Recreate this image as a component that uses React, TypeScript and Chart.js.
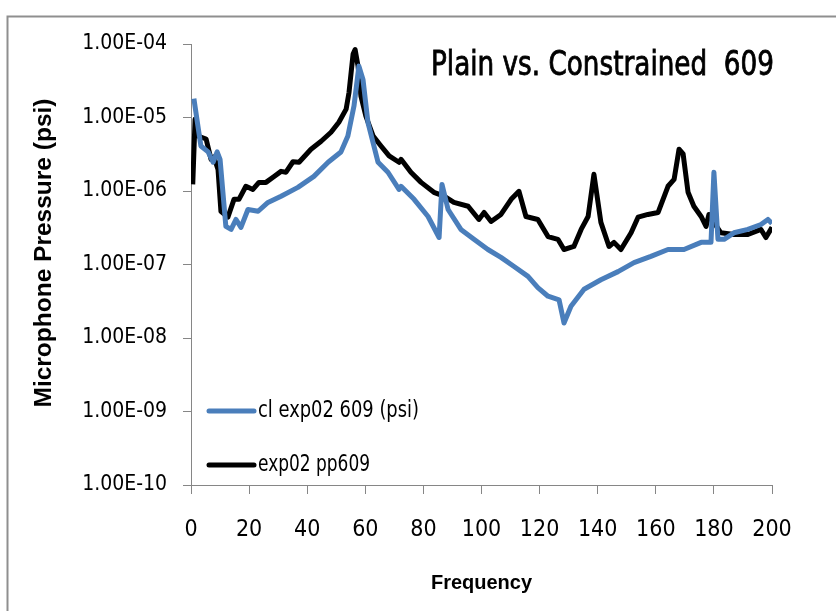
import React, { useEffect, useRef } from "react";
import { Chart, registerables } from "chart.js";

Chart.register(...registerables);

// ---- Data ----
const titleText = "Plain vs. Constrained  609";
const xTitle = "Frequency";
const yTitle = "Microphone Pressure (psi)";

const clLabel = "cl exp02 609 (psi)";
const clFreq = [1.0, 2.4, 3.4, 5.9, 7.6, 9.0, 10.0, 12.0, 13.8, 15.5, 17.2, 19.6, 23.1, 26.5, 31.0, 36.8, 42.3, 47.2, 51.6, 54.0, 56.1, 57.8, 59.2, 60.9, 64.4, 67.8, 71.6, 72.3, 76.8, 81.6, 85.4, 86.4, 88.5, 92.9, 97.4, 102.2, 106.7, 111.2, 116.0, 119.4, 122.9, 126.7, 128.4, 130.8, 135.3, 141.1, 147.0, 152.5, 158.3, 164.2, 169.7, 175.6, 179.0, 180.0, 181.4, 183.5, 186.9, 191.7, 196.2, 198.6, 200];
const clVal = [1.8e-5, 7.6e-6, 4.1e-6, 3.4e-6, 2.46e-6, 3.4e-6, 2.7e-6, 3.3e-7, 3.0e-7, 4.1e-7, 3.2e-7, 5.6e-7, 5.3e-7, 7.0e-7, 8.5e-7, 1.12e-6, 1.58e-6, 2.46e-6, 3.4e-6, 5.6e-6, 1.43e-5, 5.0e-5, 3.3e-5, 8.6e-6, 2.46e-6, 1.8e-6, 1.05e-6, 1.16e-6, 7.7e-7, 4.5e-7, 2.33e-7, 1.23e-6, 5.6e-7, 3.0e-7, 2.2e-7, 1.6e-7, 1.25e-7, 9.4e-8, 6.9e-8, 4.85e-8, 3.7e-8, 3.3e-8, 1.6e-8, 2.7e-8, 4.6e-8, 6.2e-8, 8.0e-8, 1.06e-7, 1.29e-7, 1.6e-7, 1.6e-7, 2.0e-7, 2.0e-7, 1.8e-6, 2.2e-7, 2.2e-7, 2.7e-7, 3.0e-7, 3.5e-7, 4.1e-7, 3.6e-7];

const ppLabel = "exp02 pp609";
const ppFreq = [0.6, 1.4, 2.4, 5.2, 6.9, 7.9, 9.3, 10.3, 12.7, 14.8, 16.5, 18.9, 21.3, 23.4, 25.8, 28.6, 31.0, 32.7, 35.1, 37.2, 41.3, 44.8, 48.2, 50.9, 53.4, 54.4, 55.8, 56.5, 57.5, 58.5, 60.2, 62.7, 65.4, 68.2, 71.6, 72.3, 75.7, 79.2, 83.6, 87.1, 90.5, 95.4, 99.1, 100.9, 103.3, 106.7, 110.2, 112.9, 115.3, 119.4, 122.9, 126.3, 128.4, 131.8, 134.3, 136.7, 138.7, 141.1, 143.9, 145.6, 148.0, 151.5, 153.9, 157.3, 160.8, 164.2, 166.3, 168.0, 169.4, 171.1, 173.1, 175.6, 177.3, 178.3, 180.0, 182.4, 186.9, 191.7, 196.2, 197.9, 200];
const ppVal = [1.23e-6, 9.5e-6, 5.6e-6, 5.1e-6, 2.7e-6, 2.9e-6, 1.97e-6, 5.3e-7, 4.4e-7, 7.7e-7, 7.7e-7, 1.16e-6, 1.05e-6, 1.31e-6, 1.31e-6, 1.58e-6, 1.85e-6, 1.8e-6, 2.5e-6, 2.46e-6, 3.7e-6, 4.75e-6, 6.3e-6, 8.6e-6, 1.3e-5, 2.2e-5, 7.3e-5, 8.4e-5, 5.0e-5, 1.95e-5, 1.04e-5, 5.6e-6, 4.1e-6, 3.0e-6, 2.46e-6, 2.7e-6, 1.8e-6, 1.31e-6, 9.6e-7, 8.5e-7, 7.0e-7, 6.2e-7, 4.1e-7, 5.1e-7, 3.85e-7, 4.8e-7, 7.7e-7, 9.9e-7, 4.5e-7, 4.1e-7, 2.4e-7, 2.2e-7, 1.6e-7, 1.76e-7, 3.0e-7, 4.5e-7, 1.69e-6, 3.74e-7, 1.76e-7, 2.0e-7, 1.6e-7, 2.7e-7, 4.4e-7, 4.8e-7, 5.1e-7, 1.16e-6, 1.44e-6, 3.7e-6, 3.2e-6, 9.6e-7, 6.2e-7, 4.5e-7, 3.3e-7, 4.8e-7, 3.74e-7, 2.7e-7, 2.56e-7, 2.56e-7, 3.0e-7, 2.33e-7, 3.2e-7];

const yTickValues = [1e-10, 1e-9, 1e-8, 1e-7, 1e-6, 1e-5, 1e-4];
const xMin = 0;
const xMax = 200;
const xStep = 20;

// ---- Styles ----
const NARROW = "'Liberation Sans Narrow', 'DejaVu Sans Condensed', 'Liberation Sans', sans-serif";
const SANS = "'Liberation Sans', Arial, sans-serif";
const BLUE = "#4a7ebb";
const BLACK = "#000000";
const AXIS = "#868686";

function fmtSci(v: number): string {
  const e = Math.floor(Math.log10(v) + 1e-9);
  const m = v / Math.pow(10, e);
  const sign = e < 0 ? "-" : "+";
  return m.toFixed(2) + "E" + sign + String(Math.abs(e)).padStart(2, "0");
}

// draw text squeezed horizontally to a target width
function fitText(ctx: CanvasRenderingContext2D, text: string, x: number, y: number, width: number, align: "left" | "right", stroke: number) {
  const w = ctx.measureText(text).width;
  const k = Math.min(1, width / w);
  ctx.save();
  ctx.translate(x, y);
  ctx.scale(k, 1);
  ctx.textAlign = align;
  ctx.fillText(text, 0, 0);
  if (stroke > 0) {
    ctx.strokeStyle = ctx.fillStyle as string;
    ctx.lineWidth = stroke;
    ctx.strokeText(text, 0, 0);
  }
  ctx.restore();
}

const decorPlugin = {
  id: "decor",
  beforeDraw(chart: any) {
    const ctx = chart.ctx;
    ctx.save();
    ctx.strokeStyle = "#8f8f8f";
    ctx.lineWidth = 2;
    ctx.beginPath();
    ctx.moveTo(7.5, chart.height);
    ctx.lineTo(7.5, 16.5);
    ctx.lineTo(chart.width, 16.5);
    ctx.stroke();
    ctx.restore();
  },
  afterDraw(chart: any) {
    const ctx = chart.ctx;
    const a = chart.chartArea;
    ctx.save();
    // y axis title
    ctx.save();
    ctx.translate(44, 253);
    ctx.rotate(-Math.PI / 2);
    ctx.fillStyle = "#000";
    ctx.font = "bold 24.5px " + SANS;
    ctx.textAlign = "center";
    ctx.textBaseline = "middle";
    ctx.fillText(yTitle, 0, 0);
    ctx.restore();
    // title inside plot area
    ctx.fillStyle = "#000";
    ctx.font = "34px " + NARROW;
    ctx.textBaseline = "alphabetic";
    fitText(ctx, titleText, a.right + 2, a.top + 31, 343, "right", 0.8);
    // legend inside plot area
    const rows = [a.top + 367, a.top + 421];
    const widths = [161, 112];
    chart.data.datasets.forEach((ds: any, i: number) => {
      const y = rows[i];
      ctx.strokeStyle = ds.borderColor;
      ctx.lineWidth = 5;
      ctx.lineCap = "round";
      ctx.beginPath();
      ctx.moveTo(a.left + 18, y);
      ctx.lineTo(a.left + 63, y);
      ctx.stroke();
      ctx.fillStyle = "#000";
      ctx.font = "23px " + NARROW;
      ctx.textBaseline = "middle";
      fitText(ctx, ds.label, a.left + 67, y, widths[i], "left", 0);
    });
    ctx.restore();
  },
};

export default function App() {
  const ref = useRef<HTMLCanvasElement | null>(null);

  useEffect(() => {
    document.body.style.margin = "0";
    const canvas = ref.current;
    if (!canvas) return;
    const clData = clFreq.map((f, i) => ({ x: f, y: clVal[i] }));
    const ppData = ppFreq.map((f, i) => ({ x: f, y: ppVal[i] }));
    const chart = new Chart(canvas, {
      type: "line",
      data: {
        datasets: [
          {
            label: clLabel,
            data: clData,
            borderColor: BLUE,
            backgroundColor: BLUE,
            borderWidth: 5,
            pointRadius: 0,
            tension: 0,
            borderJoinStyle: "round",
          },
          {
            label: ppLabel,
            data: ppData,
            borderColor: BLACK,
            backgroundColor: BLACK,
            borderWidth: 5,
            pointRadius: 0,
            tension: 0,
            borderJoinStyle: "round",
          },
        ],
      },
      options: {
        animation: false,
        responsive: false,
        maintainAspectRatio: false,
        layout: { padding: { top: 44, right: 64, left: 0, bottom: 0 } },
        plugins: {
          legend: { display: false },
          title: { display: false },
          tooltip: { enabled: false },
        },
        scales: {
          x: {
            type: "linear",
            min: xMin,
            max: xMax,
            afterFit: (s: any) => {
              s.height = 126;
            },
            ticks: {
              stepSize: xStep,
              color: "#000",
              padding: 22,
              maxRotation: 0,
              font: { family: NARROW, size: 23 },
            },
            grid: {
              drawOnChartArea: false,
              drawTicks: true,
              tickLength: 9,
              color: AXIS,
            },
            border: { display: true, color: AXIS, width: 1 },
            title: {
              display: true,
              text: xTitle,
              color: "#000",
              font: { family: SANS, size: 20, weight: "bold" },
              padding: { top: 0, bottom: 16 },
            },
          },
          y: {
            type: "logarithmic",
            min: yTickValues[0],
            max: yTickValues[yTickValues.length - 1],
            afterFit: (s: any) => {
              s.width = 191;
            },
            afterBuildTicks: (s: any) => {
              s.ticks = yTickValues.map((v) => ({ value: v }));
            },
            ticks: {
              color: "#000",
              padding: 16,
              autoSkip: false,
              font: { family: NARROW, size: 21 },
              callback: (v: any) => fmtSci(Number(v)),
            },
            grid: {
              drawOnChartArea: false,
              drawTicks: true,
              tickLength: 8,
              color: AXIS,
            },
            border: { display: true, color: AXIS, width: 1 },
            title: { display: false },
          },
        },
      },
      plugins: [decorPlugin],
    });
    return () => chart.destroy();
  }, []);

  return (
    <canvas
      ref={ref}
      width={836}
      height={611}
      style={{ display: "block", width: 836, height: 611 }}
    />
  );
}
